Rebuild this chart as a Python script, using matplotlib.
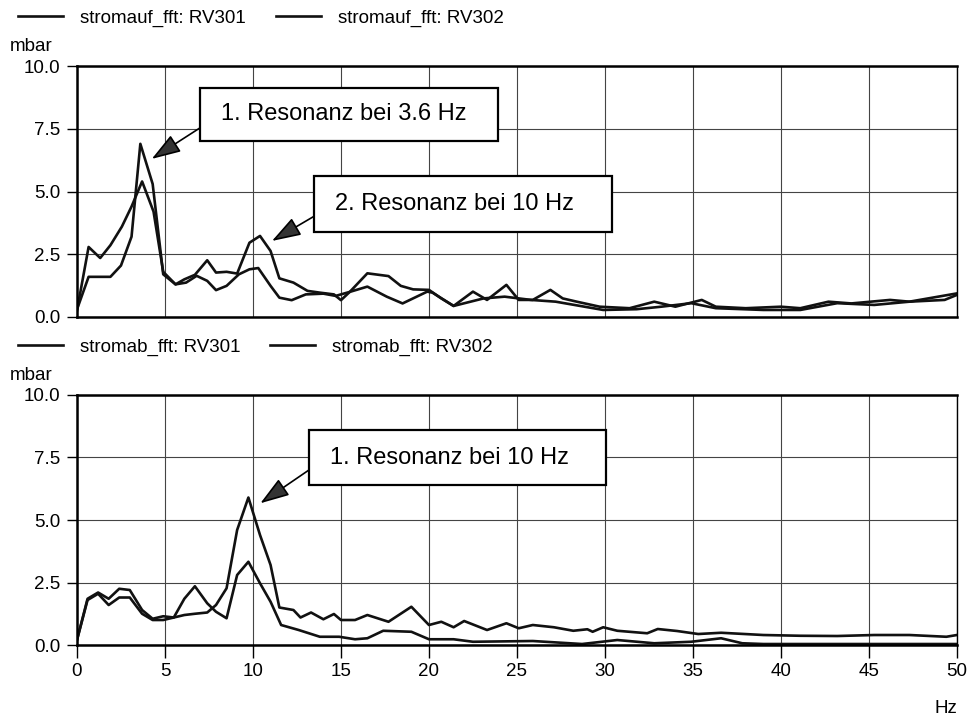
import numpy as np
import matplotlib.pyplot as plt
from matplotlib.patches import Rectangle

plt.rcParams['font.family'] = ['Liberation Sans', 'DejaVu Sans']

# stromauf (upstream) spectra
auf301_f = [0, 0.66, 1.32, 1.9, 2.5, 3.1, 3.6, 4.3, 4.9, 5.6, 6.1, 6.7, 7.4, 7.9, 8.5, 9.1, 9.8,
            10.4, 11.0, 11.5, 12.3, 13.1, 13.8, 14.6, 15.0, 15.5, 16.5, 17.7, 18.4, 19.1, 20.0,
            20.7, 21.4, 22.5, 23.3, 24.4, 25.1, 25.9, 26.9, 27.6, 28.4, 29.7, 31.4, 32.8,
            34.0, 35.5, 36.3, 38.0, 40.0, 41.1, 42.7, 44.0, 46.2, 47.3, 50.0]
auf301_v = [0.3, 1.6, 1.6, 1.6, 2.05, 3.2, 6.9, 5.3, 1.7, 1.3, 1.5, 1.68, 2.26, 1.77, 1.8, 1.73, 2.96,
            3.23, 2.63, 1.54, 1.37, 1.04, 0.97, 0.9, 0.67, 1.0, 1.74, 1.63, 1.24, 1.1, 1.08,
            0.74, 0.44, 1.01, 0.68, 1.28, 0.68, 0.68, 1.08, 0.74, 0.61, 0.41, 0.35, 0.61,
            0.41, 0.68, 0.41, 0.35, 0.41, 0.35, 0.61, 0.54, 0.68, 0.61, 0.94]

auf302_f = [0, 0.66, 1.32, 1.9, 2.55, 3.1, 3.7, 4.35, 4.9, 5.6, 6.2, 6.8, 7.4, 7.9, 8.5, 9.2, 9.8,
            10.3, 11.0, 11.5, 12.2, 13.0, 14.0, 14.7, 15.5, 16.5, 17.6, 18.5, 19.9, 20.2,
            21.4, 23.1, 24.3, 25.8, 27.2, 29.9, 31.8, 33.2, 34.9, 36.3, 39.0, 41.1, 43.2,
            45.3, 47.3, 49.3, 50.0]
auf302_v = [0.25, 2.79, 2.35, 2.86, 3.6, 4.4, 5.4, 4.2, 1.8, 1.3, 1.37, 1.64, 1.44, 1.07, 1.24, 1.7, 1.9,
            1.95, 1.24, 0.77, 0.67, 0.9, 0.93, 0.84, 1.0, 1.21, 0.81, 0.54, 1.01, 0.97,
            0.44, 0.74, 0.81, 0.68, 0.61, 0.28, 0.31, 0.41, 0.55, 0.35, 0.28, 0.28, 0.55,
            0.48, 0.61, 0.68, 0.88]

# stromab (downstream) spectra
ab301_f = [0, 0.6, 1.2, 1.8, 2.4, 3.0, 3.7, 4.3, 4.9, 5.5, 6.1, 6.7, 7.4, 7.9, 8.5, 9.1, 9.74,
           10.4, 11.0, 11.5, 12.3, 12.7, 13.3, 14.0, 14.6, 15.0, 15.8, 16.5, 17.7, 19.0,
           20.0, 20.7, 21.4, 22.0, 23.3, 24.4, 25.1, 25.9, 27.1, 28.2, 29.0, 29.3, 29.9,
           30.7, 32.4, 33.0, 34.1, 35.3, 36.6, 39.0, 41.1, 43.2, 45.3, 47.3, 49.4, 50.0]
ab301_v = [0.2, 1.85, 2.1, 1.85, 2.25, 2.2, 1.4, 1.05, 1.15, 1.1, 1.2, 1.25, 1.3, 1.6, 2.27, 4.6, 5.9,
           4.4, 3.2, 1.5, 1.4, 1.1, 1.3, 1.03, 1.24, 1.0, 1.0, 1.2, 0.93, 1.53,
           0.8, 0.93, 0.71, 0.96, 0.6, 0.87, 0.67, 0.8, 0.71, 0.57, 0.63, 0.53, 0.71,
           0.57, 0.47, 0.64, 0.56, 0.44, 0.49, 0.4, 0.37, 0.36, 0.4, 0.4, 0.33, 0.4]

ab302_f = [0, 0.6, 1.2, 1.8, 2.4, 3.0, 3.7, 4.3, 4.9, 5.5, 6.1, 6.7, 7.4, 7.9, 8.5, 9.1, 9.74,
           10.4, 11.0, 11.6, 12.6, 13.8, 14.9, 15.8, 16.5, 17.4, 19.0, 20.0, 21.4, 22.5,
           25.9, 28.7, 30.7, 32.8, 34.9, 36.6, 37.8, 39.0, 50.0]
ab302_v = [0.2, 1.8, 2.05, 1.6, 1.9, 1.9, 1.25, 1.0, 1.0, 1.1, 1.85, 2.35, 1.67, 1.33, 1.07, 2.8, 3.33,
           2.47, 1.73, 0.8, 0.6, 0.33, 0.33, 0.23, 0.27, 0.57, 0.53, 0.23, 0.23, 0.13,
           0.16, 0.04, 0.2, 0.07, 0.13, 0.27, 0.07, 0.04, 0.04]

xticks = [0, 5, 10, 15, 20, 25, 30, 35, 40, 45, 50]
yticks = [0.0, 2.5, 5.0, 7.5, 10.0]

FS = 13.5

fig = plt.figure(figsize=(9.72, 7.17), dpi=100)
ax1 = fig.add_axes([0.0792, 0.5579, 0.9053, 0.3500])
ax2 = fig.add_axes([0.0792, 0.1004, 0.9053, 0.3487])


def style(ax, show_x):
    ax.set_xlim(0, 50)
    ax.set_ylim(0, 10)
    ax.set_xticks(xticks)
    ax.set_yticks(yticks)
    ax.set_yticklabels(['%.1f' % v for v in yticks])
    ax.grid(True, color='#444444', lw=0.8)
    ax.set_axisbelow(True)
    for s in ['top', 'left', 'bottom']:
        ax.spines[s].set_linewidth(1.8)
    ax.spines['right'].set_linewidth(1.0)
    ax.tick_params(axis='y', length=7.2, width=1.0, pad=5, labelsize=FS)
    if show_x:
        ax.tick_params(axis='x', length=9, width=1.0, pad=4, labelsize=FS)
    else:
        ax.tick_params(axis='x', length=0, labelbottom=False)
    ax.text(-0.076, 1.076, 'mbar', transform=ax.transAxes, fontsize=FS,
            ha='left', va='center')


def box(ax, x0, x1, y0, y1, tx, txt):
    ax.add_patch(Rectangle((x0, y0), x1 - x0, y1 - y0, fc='white', ec='black',
                           lw=1.6, zorder=5))
    ax.text(tx, (y0 + y1) / 2, txt, fontsize=17, ha='left', va='center', zorder=6)


def arrow(ax, tip, tail):
    ax.annotate('', xy=tip, xytext=tail, zorder=6,
                arrowprops=dict(arrowstyle='-|>,head_length=1.2,head_width=0.4',
                                mutation_scale=15, fc='#333333', ec='black', lw=1.2,
                                shrinkA=0, shrinkB=0))


def legend(ax):
    ax.legend(loc='center left', bbox_to_anchor=(-0.067, 1.19), ncol=2, frameon=False,
              fontsize=FS, handlelength=2.4, handletextpad=0.9, columnspacing=1.6,
              borderaxespad=0, borderpad=0)


style(ax1, False)
ax1.plot(auf301_f, auf301_v, color='#111111', lw=1.9, label='stromauf_fft: RV301')
ax1.plot(auf302_f, auf302_v, color='#111111', lw=1.9, label='stromauf_fft: RV302')
legend(ax1)
box(ax1, 7.0, 23.9, 7.0, 9.14, 8.2, '1. Resonanz bei 3.6 Hz')
arrow(ax1, (4.25, 6.3), (7.0, 7.54))
box(ax1, 13.44, 30.4, 3.4, 5.6, 14.67, '2. Resonanz bei 10 Hz')
arrow(ax1, (11.08, 3.03), (13.44, 4.0))

style(ax2, True)
ax2.plot(ab301_f, ab301_v, color='#111111', lw=1.9, label='stromab_fft: RV301')
ax2.plot(ab302_f, ab302_v, color='#111111', lw=1.9, label='stromab_fft: RV302')
legend(ax2)
box(ax2, 13.16, 30.06, 6.39, 8.6, 14.37, '1. Resonanz bei 10 Hz')
arrow(ax2, (10.42, 5.67), (13.16, 6.99))
ax2.text(1.0, -0.252, 'Hz', transform=ax2.transAxes, fontsize=FS, ha='right', va='center')

fig.savefig('out.png', dpi=100)
